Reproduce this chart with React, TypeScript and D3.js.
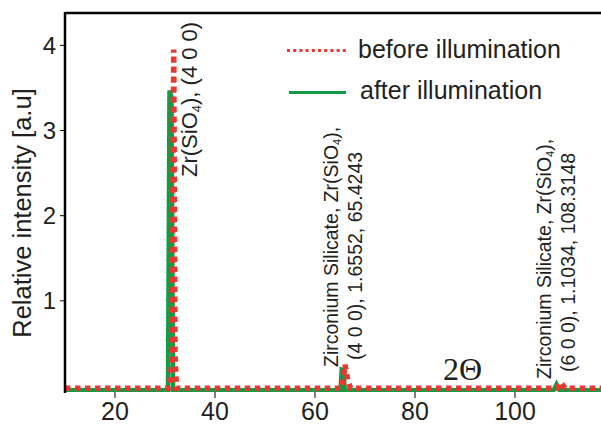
import React from "react";
import * as d3 from "d3";

const W = 601;
const H = 424;

// 2-theta positions and relative intensities
const beforeX = [10, 30.9, 31.45, 31.75, 32.0, 32.3, 65.3, 65.75, 66.0, 66.3, 66.6, 67.1, 108.4, 109.2, 110.0, 120];
const beforeY = [-0.025, -0.025, 0.35, 3.95, 0.35, -0.025, -0.025, 0.12, 0.25, 0.15, 0.06, -0.025, -0.025, 0.045, -0.025, -0.025];

const afterX = [10, 30.6, 30.9, 31.3, 31.6, 65.1, 65.35, 65.7, 65.95, 107.7, 108.3, 108.9, 120];
const afterY = [-0.05, -0.05, 3.47, 3.4, -0.05, -0.05, 0.19, 0.18, -0.05, -0.05, 0.02, -0.05, -0.05];

const xTicks = [20, 40, 60, 80, 100];
const yTicks = [1, 2, 3, 4];

const legendLabels = ["before illumination", "after illumination"];

const RED = "#e8382f";
const GREEN = "#139a45";
const TEXT = "#231f20";
const FONT = "'Liberation Sans', Arial, Helvetica, sans-serif";

export default function App() {
  const x = d3.scaleLinear().domain([10, 117.2]).range([65, 601]);
  const y = d3.scaleLinear().domain([-0.07, 4.38]).range([392, 13]);

  const line = d3
    .line<[number, number]>()
    .x((d) => x(d[0]))
    .y((d) => y(d[1]));

  const before = beforeX.map((v, i) => [v, beforeY[i]] as [number, number]);
  const after = afterX.map((v, i) => [v, afterY[i]] as [number, number]);

  return (
    <svg
      width={W}
      height={H}
      style={{ position: "absolute", left: 0, top: 0, background: "#fff" }}
      fontFamily={FONT}
    >
      <defs>
        <clipPath id="plot">
          <rect x={66} y={13} width={W - 66} height={392 - 13} />
        </clipPath>
      </defs>

      {/* data */}
      <g clipPath="url(#plot)">
        <path d={line(after) || ""} fill="none" stroke={GREEN} strokeWidth={4.5} strokeLinejoin="miter" />
        <path d={line(before) || ""} fill="none" stroke={RED} strokeWidth={5.5} strokeDasharray="5.5 4.5" />
      </g>

      {/* frame */}
      <line x1={65} x2={W} y1={13} y2={13} stroke="#000" strokeWidth={2.5} />
      <line x1={65} x2={65} y1={12} y2={393} stroke="#000" strokeWidth={2.5} />

      {/* y ticks */}
      {yTicks.map((t) => (
        <g key={t}>
          <line x1={60} x2={65} y1={y(t)} y2={y(t)} stroke="#000" strokeWidth={1} />
          <text x={56} y={y(t)} dy="0.35em" textAnchor="end" fontSize={24} fill={TEXT}>
            {t}
          </text>
        </g>
      ))}

      {/* x ticks */}
      {xTicks.map((t) => (
        <g key={t}>
          <line x1={x(t)} x2={x(t)} y1={392} y2={398} stroke="#000" strokeWidth={1} />
          <text x={x(t)} y={420} textAnchor="middle" fontSize={25} fill={TEXT}>
            {t}
          </text>
        </g>
      ))}

      {/* y axis title */}
      <text
        transform="translate(31,213) rotate(-90)"
        textAnchor="middle"
        fontSize={25.5}
        fill={TEXT}
      >
        Relative intensity [a.u]
      </text>

      {/* 2Θ */}
      <text x={443} y={380} fontSize={32} fontFamily="'Liberation Serif', 'Times New Roman', serif" fill={TEXT}>
        2Θ
      </text>

      {/* legend */}
      <line x1={287} x2={346} y1={50.5} y2={50.5} stroke={RED} strokeWidth={3} strokeDasharray="3 3.2" />
      <text x={358} y={58} fontSize={25} fill={TEXT}>{legendLabels[0]}</text>
      <line x1={289} x2={346} y1={92.5} y2={92.5} stroke={GREEN} strokeWidth={3} />
      <text x={360} y={99} fontSize={25} fill={TEXT}>{legendLabels[1]}</text>

      {/* peak labels */}
      <text transform="translate(197,177) rotate(-90)" fontSize={22} fill={TEXT}>
        Zr(SiO<tspan fontSize={13} dy={4}>4</tspan><tspan dy={-4}>), (4 0 0)</tspan>
      </text>

      <text transform="translate(338,367) rotate(-90)" fontSize={19.5} fill={TEXT}>
        Zirconium Silicate, Zr(SiO<tspan fontSize={11} dy={3}>4</tspan><tspan dy={-3}>),</tspan>
      </text>
      <text transform="translate(362,360) rotate(-90)" fontSize={19.5} fill={TEXT}>
        (4 0 0), 1.6552, 65.4243
      </text>

      <text transform="translate(551,379) rotate(-90)" fontSize={19.5} fill={TEXT}>
        Zirconium Silicate, Zr(SiO<tspan fontSize={11} dy={3}>4</tspan><tspan dy={-3}>),</tspan>
      </text>
      <text transform="translate(575,372) rotate(-90)" fontSize={19.5} fill={TEXT}>
        (6 0 0), 1.1034, 108.3148
      </text>
    </svg>
  );
}
